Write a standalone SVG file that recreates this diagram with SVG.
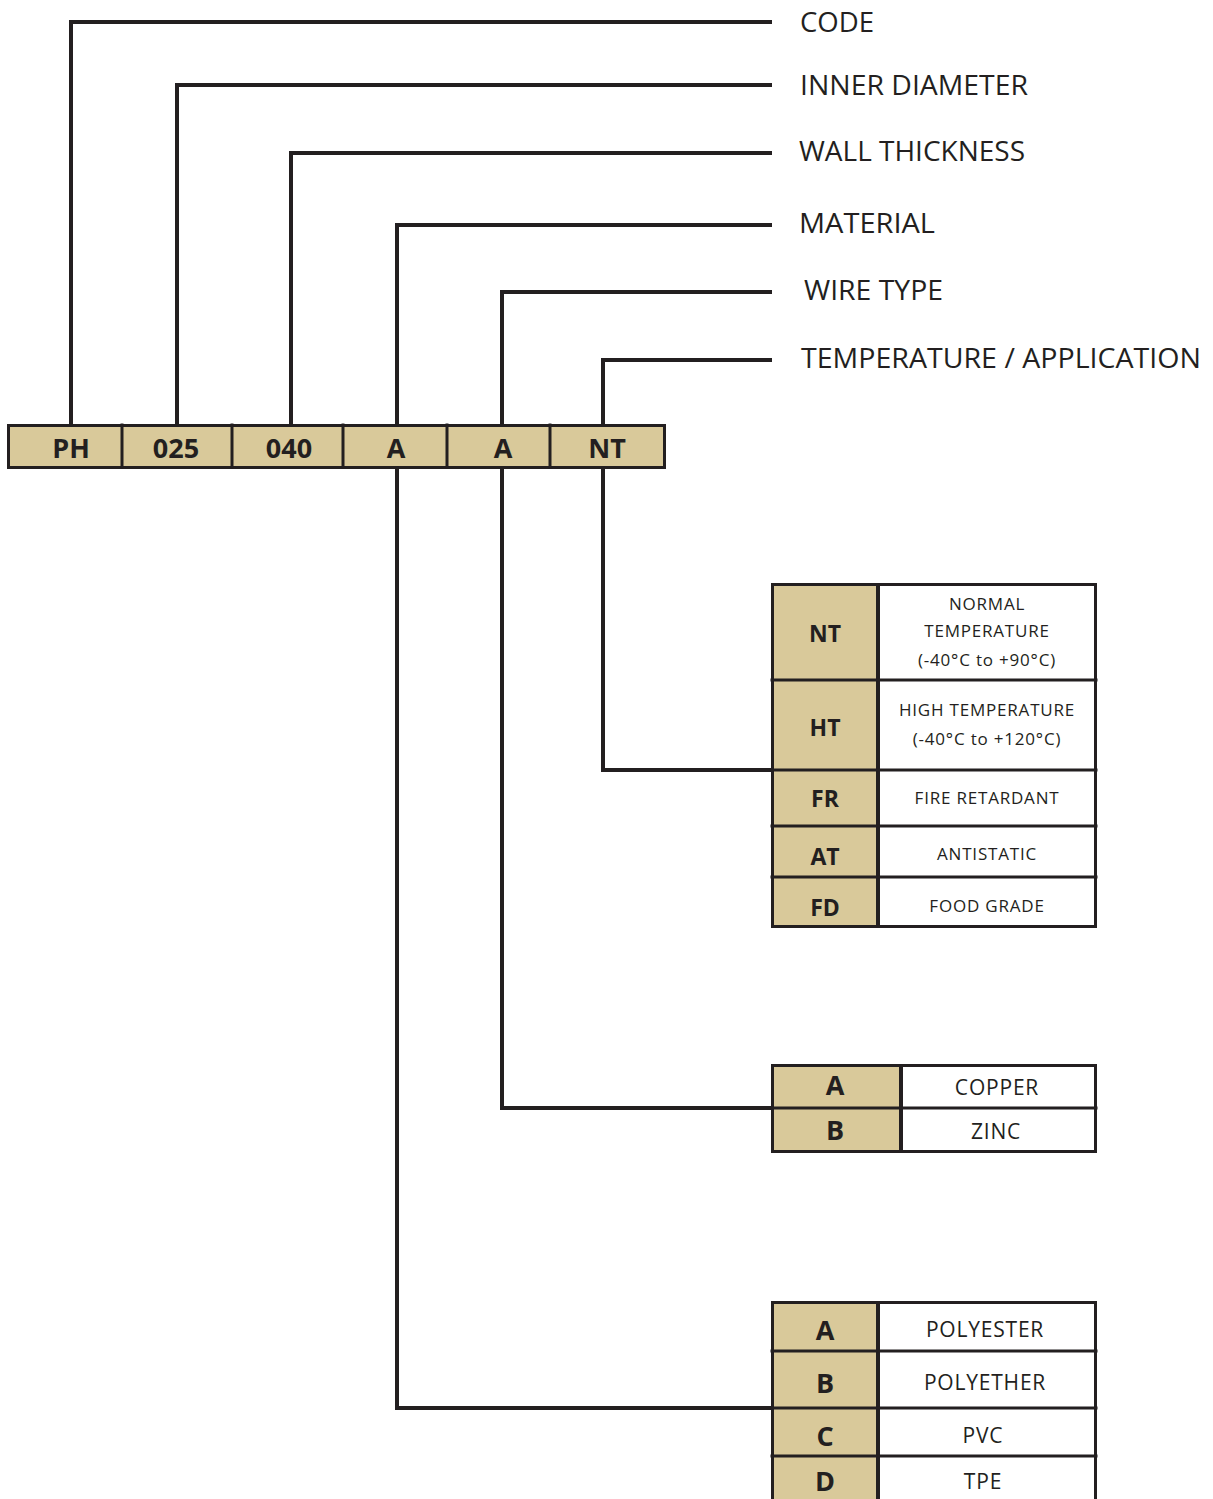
<svg xmlns="http://www.w3.org/2000/svg" width="1213" height="1499" viewBox="0 0 1213 1499">
<style>
.ln{fill:none;stroke:#231f20;stroke-width:4;stroke-linecap:square}
.cell{fill:#d9c99a;stroke:#231f20;stroke-width:3}
.wcell{fill:#fff;stroke:#231f20;stroke-width:3}
.lbl{font-family:"Open Sans","Liberation Sans",sans-serif;font-size:27px;fill:#231f20}
.code{font-family:"Open Sans","Liberation Sans",sans-serif;font-size:27px;font-weight:bold;fill:#231f20;text-anchor:middle}
.k{font-family:"Open Sans","Liberation Sans",sans-serif;font-size:23px;font-weight:bold;fill:#231f20;text-anchor:middle}
.kl{font-family:"Open Sans","Liberation Sans",sans-serif;font-size:27px;font-weight:bold;fill:#231f20;text-anchor:middle}
.d{font-family:"Open Sans","Liberation Sans",sans-serif;font-size:17px;fill:#231f20;text-anchor:middle;letter-spacing:0.8px}
.dl{font-family:"Open Sans","Liberation Sans",sans-serif;font-size:21px;fill:#231f20;text-anchor:middle;letter-spacing:0.8px}
</style>
<g id="connectors">
<polyline class="ln" points="71,425 71,22 770,22"/>
<polyline class="ln" points="177,425 177,85 770,85"/>
<polyline class="ln" points="291,425 291,153 770,153"/>
<polyline class="ln" points="397,425 397,225 770,225"/>
<polyline class="ln" points="502,425 502,292 770,292"/>
<polyline class="ln" points="603,425 603,360 770,360"/>
<polyline class="ln" points="397,467 397,1408 772,1408"/>
<polyline class="ln" points="502,467 502,1108 772,1108"/>
<polyline class="ln" points="603,467 603,770 772,770"/>
</g>
<g id="labels">
<text class="lbl" x="800" y="32" textLength="74" lengthAdjust="spacingAndGlyphs">CODE</text>
<text class="lbl" x="800" y="95" textLength="228" lengthAdjust="spacingAndGlyphs">INNER DIAMETER</text>
<text class="lbl" x="799" y="161" textLength="226" lengthAdjust="spacingAndGlyphs">WALL THICKNESS</text>
<text class="lbl" x="799" y="233" textLength="136" lengthAdjust="spacingAndGlyphs">MATERIAL</text>
<text class="lbl" x="804" y="300" textLength="139" lengthAdjust="spacingAndGlyphs">WIRE TYPE</text>
<text class="lbl" x="801" y="368" textLength="400" lengthAdjust="spacingAndGlyphs">TEMPERATURE / APPLICATION</text>
</g>
<g id="code-bar">
<rect class="cell" x="8.5" y="425.5" width="656" height="42"/>
<line class="ln" x1="122" y1="425" x2="122" y2="467" style="stroke-width:3"/>
<line class="ln" x1="232" y1="425" x2="232" y2="467" style="stroke-width:3"/>
<line class="ln" x1="343" y1="425" x2="343" y2="467" style="stroke-width:3"/>
<line class="ln" x1="447" y1="425" x2="447" y2="467" style="stroke-width:3"/>
<line class="ln" x1="550" y1="425" x2="550" y2="467" style="stroke-width:3"/>
<text class="code" x="71" y="458">PH</text>
<text class="code" x="176" y="458">025</text>
<text class="code" x="289" y="458">040</text>
<text class="code" x="396" y="458">A</text>
<text class="code" x="503" y="458">A</text>
<text class="code" x="607" y="458">NT</text>
</g>
<g id="temperature-table">
<rect class="cell" x="772.5" y="584.5" width="105" height="342"/>
<rect class="wcell" x="878.5" y="584.5" width="217" height="342"/>
<line class="ln" style="stroke-width:3" x1="772" y1="680" x2="1096" y2="680"/>
<line class="ln" style="stroke-width:3" x1="772" y1="770" x2="1096" y2="770"/>
<line class="ln" style="stroke-width:3" x1="772" y1="826" x2="1096" y2="826"/>
<line class="ln" style="stroke-width:3" x1="772" y1="877" x2="1096" y2="877"/>
<text class="k" x="825" y="642">NT</text>
<text class="k" x="825" y="736">HT</text>
<text class="k" x="825" y="807">FR</text>
<text class="k" x="825" y="865">AT</text>
<text class="k" x="825" y="916">FD</text>
<text class="d" x="987" y="610">NORMAL</text>
<text class="d" x="987" y="637">TEMPERATURE</text>
<text class="d" x="987" y="666">(-40°C to +90°C)</text>
<text class="d" x="987" y="716">HIGH TEMPERATURE</text>
<text class="d" x="987" y="745">(-40°C to +120°C)</text>
<text class="d" x="987" y="804">FIRE RETARDANT</text>
<text class="d" x="987" y="860">ANTISTATIC</text>
<text class="d" x="987" y="912">FOOD GRADE</text>
</g>
<g id="wire-table">
<rect class="cell" x="772.5" y="1065.5" width="128" height="86"/>
<rect class="wcell" x="901.5" y="1065.5" width="194" height="86"/>
<line class="ln" style="stroke-width:3" x1="772" y1="1108" x2="1096" y2="1108"/>
<text class="kl" x="835" y="1095">A</text>
<text class="kl" x="835" y="1140">B</text>
<text class="dl" x="997" y="1095">COPPER</text>
<text class="dl" x="996" y="1139">ZINC</text>
</g>
<g id="material-table">
<rect class="cell" x="772.5" y="1302.5" width="105" height="210"/>
<rect class="wcell" x="878.5" y="1302.5" width="217" height="210"/>
<line class="ln" style="stroke-width:3" x1="772" y1="1351" x2="1096" y2="1351"/>
<line class="ln" style="stroke-width:3" x1="772" y1="1408" x2="1096" y2="1408"/>
<line class="ln" style="stroke-width:3" x1="772" y1="1456" x2="1096" y2="1456"/>
<text class="kl" x="825" y="1340">A</text>
<text class="kl" x="825" y="1393">B</text>
<text class="kl" x="825" y="1446">C</text>
<text class="kl" x="825" y="1491">D</text>
<text class="dl" x="985" y="1337">POLYESTER</text>
<text class="dl" x="985" y="1390">POLYETHER</text>
<text class="dl" x="983" y="1443">PVC</text>
<text class="dl" x="983" y="1489">TPE</text>
</g>
</svg>
